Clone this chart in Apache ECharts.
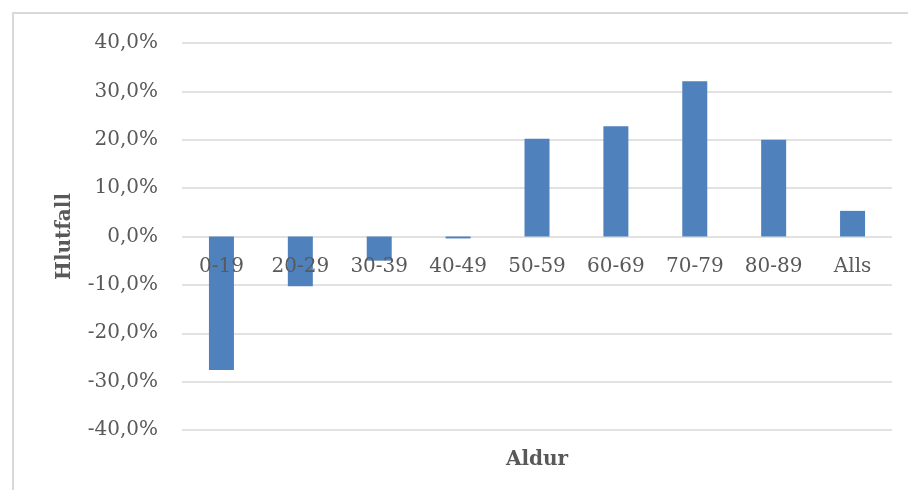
<!DOCTYPE html>
<html>
<head>
<meta charset="utf-8">
<script src="https://cdn.jsdelivr.net/npm/echarts@6/dist/echarts.min.js"></script>
<style>html,body{margin:0;padding:0;background:#fff}#c{width:908px;height:490px}</style>
</head>
<body>
<div id="c"></div>
<script>
const categories = ['0-19','20-29','30-39','40-49','50-59','60-69','70-79','80-89','Alls'];
const values = [-27.6, -10.3, -5.0, -0.4, 20.2, 22.8, 32.1, 20.0, 5.3];
const yTicks = [-40, -30, -20, -10, 0, 10, 20, 30, 40];
const yAxisTitle = 'Hlutfall';
const xAxisTitle = 'Aldur';

const W = 908, H = 490;
const gridTop = 43, gridBottom = 60;
const plotH = H - gridTop - gridBottom;
const yMin = yTicks[0], yMax = yTicks[yTicks.length - 1];
// distance from plot bottom up to the zero line
const zeroOffset = -plotH * (0 - yMin) / (yMax - yMin);

const chart = echarts.init(document.getElementById('c'), null, {renderer:'canvas'});
const font = 'DejaVu Serif';
const txt = '#595959';
const grid = '#d9d9d9';
chart.setOption({
  animation: false,
  backgroundColor: '#fff',
  graphic: [{
    type: 'polyline',
    shape: { points: [[13, 500], [13, 13], [910, 13]] },
    style: { stroke: '#d9d9d9', lineWidth: 2, fill: null },
    silent: true
  }],
  grid: { left: 182, right: 16, top: gridTop, bottom: gridBottom, containLabel: false, outerBoundsMode: 'none' },
  xAxis: [{
    type: 'category',
    data: categories,
    position: 'bottom',
    offset: zeroOffset,
    z: 5,
    axisLine: { show: false, onZero: false },
    axisTick: { show: false },
    axisLabel: { fontFamily: font, fontSize: 20, color: txt, margin: 20, interval: 0 },
    splitLine: { show: false }
  }, {
    type: 'category',
    data: categories,
    position: 'bottom',
    name: xAxisTitle,
    nameLocation: 'middle',
    nameGap: 20,
    nameMoveOverlap: false,
    nameTextStyle: { fontFamily: font, fontSize: 20, fontWeight: 'bold', color: txt },
    axisLine: { show: false, onZero: false },
    axisTick: { show: false },
    axisLabel: { show: false },
    splitLine: { show: false }
  }],
  yAxis: {
    type: 'value',
    min: yMin,
    max: yMax,
    interval: 10,
    name: yAxisTitle,
    nameLocation: 'middle',
    nameGap: 107,
    nameRotate: 90,
    nameMoveOverlap: false,
    nameTextStyle: { fontFamily: font, fontSize: 20, fontWeight: 'bold', color: txt },
    axisLine: { show: false },
    axisTick: { show: false },
    axisLabel: {
      fontFamily: font, fontSize: 20, color: txt, margin: 24,
      formatter: v => v.toFixed(1).replace('.', ',') + '%'
    },
    splitLine: { show: true, lineStyle: { color: grid, width: 1.5 } }
  },
  series: [{
    type: 'bar',
    data: values,
    barWidth: 25,
    z: 2,
    itemStyle: { color: '#4f81bd' }
  }]
});
</script>
</body>
</html>
